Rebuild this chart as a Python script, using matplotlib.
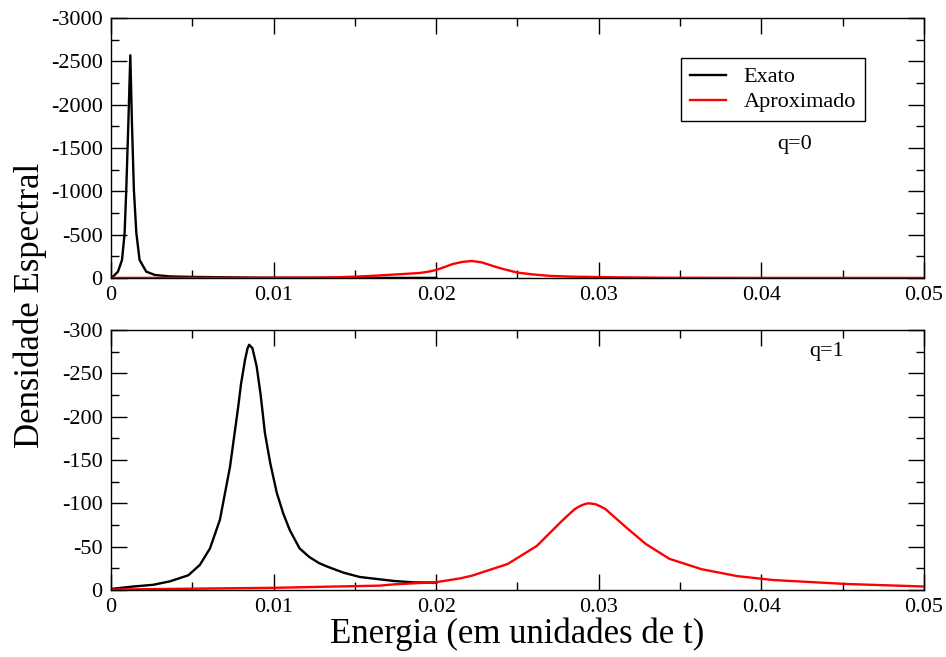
import matplotlib.pyplot as plt
from matplotlib.ticker import MultipleLocator

plt.rcParams['font.family'] = ['Liberation Serif', 'DejaVu Serif']
plt.rcParams['axes.unicode_minus'] = False

# q=0 panel
exato0_x = [0, 0.00012, 0.00043, 0.00068, 0.00084, 0.00094, 0.00105, 0.00119, 0.00129,
            0.00141, 0.00156, 0.00176, 0.00217, 0.0027, 0.0036, 0.005, 0.0071, 0.009,
            0.012, 0.016, 0.02]
exato0_y = [-3, -15, -73, -208, -519, -1015, -1670, -2570, -1790, -1015, -519, -208,
            -73, -35, -18, -12, -8, -4, -2, -1, -1]
aprox0_x = [0, 0.005, 0.01, 0.0128, 0.014, 0.015, 0.016, 0.017, 0.018, 0.019, 0.0195,
            0.020, 0.0205, 0.021, 0.0216, 0.0222, 0.0228, 0.0233, 0.0238, 0.0243, 0.025,
            0.026, 0.027, 0.0284, 0.031, 0.034, 0.04, 0.05]
aprox0_y = [-1, -1, -2, -5, -9, -15, -24, -35, -46, -58, -72, -92, -125, -160, -185,
            -196, -180, -150, -120, -95, -62, -40, -24, -15, -8, -3, -1, -1]

# q=1 panel
exato1_x = [0, 0.00014, 0.00137, 0.0026, 0.00363, 0.00476, 0.00547, 0.00609, 0.0067,
            0.00732, 0.00783, 0.008, 0.00824, 0.0084, 0.0085, 0.0087, 0.0088, 0.00896,
            0.0092, 0.00947, 0.0098, 0.0102, 0.0106, 0.011, 0.0116, 0.0122, 0.0128,
            0.0133, 0.0143, 0.0153, 0.0174, 0.0186, 0.02]
exato1_y = [-1, -1.5, -4, -6, -10, -17, -29, -48, -81, -142, -212, -238, -265, -279,
            -283, -279, -271, -258, -226, -181, -146, -112, -88, -69, -48, -38, -31,
            -27, -20, -15, -10.4, -8.8, -8.5]
aprox1_x = [0, 0.005, 0.01, 0.0133, 0.0165, 0.0174, 0.02, 0.0215, 0.0222, 0.0244, 0.0262,
            0.02775, 0.0285, 0.02885, 0.0292, 0.0294, 0.0298, 0.0301, 0.0304, 0.0317,
            0.0329, 0.03434, 0.03632, 0.03852, 0.04072, 0.04512, 0.05]
aprox1_y = [-0.5, -1.5, -2.5, -3.8, -5, -6.5, -9, -13.5, -16.5, -30, -51, -80, -93, -97,
            -99.5, -100, -99, -96.5, -93.5, -72, -53, -36, -24, -16, -11.5, -7, -4]

fig = plt.figure(figsize=(9.46, 6.57), dpi=100)
ax0 = fig.add_axes([0.1173, 0.5769, 0.8594, 0.3957])
ax1 = fig.add_axes([0.1173, 0.1020, 0.8594, 0.3957])


def style(ax, ymin, ymaj, ymin_step):
    ax.set_xlim(0, 0.05)
    ax.set_ylim(0, ymin)
    ax.xaxis.set_major_locator(MultipleLocator(0.01))
    ax.xaxis.set_minor_locator(MultipleLocator(0.005))
    ax.yaxis.set_major_locator(MultipleLocator(ymaj))
    ax.yaxis.set_minor_locator(MultipleLocator(ymin_step))
    ax.xaxis.set_major_formatter(plt.FuncFormatter(lambda v, p: '0' if v == 0 else f'{v:g}'))
    ax.tick_params(which='both', direction='in', top=True, right=True, width=1,
                   labelsize=16, color='black')
    ax.tick_params(which='major', length=11.5, pad=6)
    ax.tick_params(which='minor', length=6)
    for s in ax.spines.values():
        s.set_linewidth(1)


ax0.plot(exato0_x, exato0_y, color='black', lw=1.7, label='Exato')
ax0.plot(aprox0_x, aprox0_y, color='red', lw=1.7, label='Aproximado')
style(ax0, -3000, 500, 250)
ax0.legend(loc='upper right', bbox_to_anchor=(0.927, 0.846), fontsize=16,
           fancybox=False, edgecolor='black', framealpha=1, handlelength=1.6,
           borderpad=0.4, labelspacing=0.2, handletextpad=0.8,
           borderaxespad=0).get_frame().set_linewidth(1)
ax0.text(0.841, 0.512, 'q=0', transform=ax0.transAxes, fontsize=16,
         ha='center', va='center')

ax1.plot(exato1_x, exato1_y, color='black', lw=1.7)
ax1.plot(aprox1_x, aprox1_y, color='red', lw=1.7)
style(ax1, -300, 50, 25)
ax1.text(0.88, 0.917, 'q=1', transform=ax1.transAxes, fontsize=16,
         ha='center', va='center')

fig.text(0.032, 0.535, 'Densidade Espectral', rotation=90, fontsize=25,
         ha='center', va='center')
fig.text(0.547, 0.035, 'Energia (em unidades de t)', fontsize=25,
         ha='center', va='center')

fig.savefig('out.png', dpi=100)
